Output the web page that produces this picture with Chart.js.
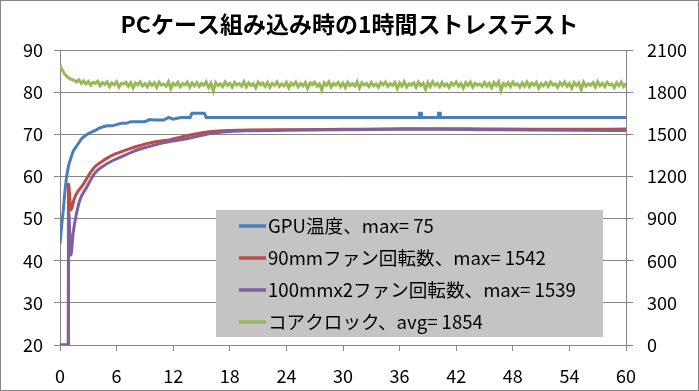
<!DOCTYPE html>
<html>
<head>
<meta charset="utf-8">
<script src="https://cdn.jsdelivr.net/npm/chart.js@4.4.0/dist/chart.umd.min.js"></script>
<style>
    html, body { margin: 0; padding: 0; background: #fff; }
    #wrap { width: 699px; height: 391px; }
</style>
</head>
<body>
<div id="wrap"><canvas id="myChart" width="699" height="391"></canvas></div>
<script>
// ---- data ----
const chartTitle = 'PCケース組み込み時の1時間ストレステスト';
const seriesLabels = [
    'GPU温度、max= 75',
    '90mmファン回転数、max= 1542',
    '100mmx2ファン回転数、max= 1539',
    'コアクロック、avg= 1854'
];
const xTickValues = [0, 6, 12, 18, 24, 30, 36, 42, 48, 54, 60];       // minutes
const leftTickValues = [20, 30, 40, 50, 60, 70, 80, 90];              // temperature
const rightTickValues = [0, 300, 600, 900, 1200, 1500, 1800, 2100];   // rpm / MHz

// GPU temperature (left axis)
const gpuTime = [0, 0.2, 0.35, 0.5, 0.7, 0.9, 1.1, 1.4, 1.7, 2.0,
    2.3, 2.7, 3.0, 3.4, 3.8, 4.2, 4.6, 5.0, 5.5, 6.0,
    6.5, 7.0, 7.5, 8.0, 9.0, 9.5, 10.0, 11.0, 11.5, 12.0,
    12.8, 13.0, 13.8, 14.0, 15.3, 15.5, 38.1, 38.12, 38.3, 38.32,
    40.1, 40.12, 40.3, 40.32, 60];
const gpuTemp = [44, 49, 52, 56, 60, 62.5, 64, 66, 67, 68,
    69, 69.7, 70.2, 70.6, 71, 71.5, 71.8, 72, 72, 72.3,
    72.6, 72.6, 73, 73, 73, 73.5, 73.4, 73.4, 74, 73.6,
    74, 74, 74, 75, 75, 74, 74, 75, 75, 74,
    74, 75, 75, 74, 74];

// 90mm fan rpm (right axis)
const fan90Time = [0, 0.88, 0.9, 1.17, 1.5, 1.9, 2.3, 2.7, 3.2, 3.7,
    4.3, 5.0, 5.8, 6.5, 7.5, 8.5, 9.4, 10.5, 11.7, 13.1,
    14.2, 15.2, 16.5, 18, 20, 25, 30, 35, 40, 45,
    50, 55, 60];
const fan90Rpm = [0, 0, 1146, 960, 1040, 1095, 1127, 1170, 1225, 1269,
    1300, 1330, 1358, 1376, 1400, 1420, 1436, 1450, 1462, 1484,
    1500, 1512, 1522, 1527, 1530, 1532, 1535, 1538, 1540, 1538,
    1536, 1535, 1537];

// 100mm x2 fan rpm (right axis)
const fan100Time = [0, 0.88, 0.92, 1.15, 1.4, 1.7, 2.1, 2.8, 3.7, 4.5,
    5.5, 6.5, 7.5, 8.5, 9.4, 10.5, 11.7, 13.1, 14.2, 15.2,
    16.5, 18, 20, 25, 30, 35, 40, 45, 50, 55,
    60];
const fan100Rpm = [0, 0, 950, 640, 800, 920, 1030, 1120, 1224, 1270,
    1310, 1340, 1370, 1395, 1412, 1432, 1448, 1464, 1480, 1495,
    1510, 1520, 1525, 1530, 1533, 1535, 1536, 1533, 1530, 1528,
    1527];

// core clock MHz (right axis), one row = 5 minutes
const clockTime = [
    0, 0.25, 0.5, 0.75, 1, 1.25, 1.5, 1.75, 2, 2.25, 2.5, 2.75, 3, 3.25, 3.5, 3.75, 4, 4.25, 4.5, 4.75,
    5, 5.25, 5.5, 5.75, 6, 6.25, 6.5, 6.75, 7, 7.25, 7.5, 7.75, 8, 8.25, 8.5, 8.75, 9, 9.25, 9.5, 9.75,
    10, 10.25, 10.5, 10.75, 11, 11.25, 11.5, 11.75, 12, 12.25, 12.5, 12.75, 13, 13.25, 13.5, 13.75, 14, 14.25, 14.5, 14.75,
    15, 15.25, 15.5, 15.75, 16, 16.25, 16.5, 16.75, 17, 17.25, 17.5, 17.75, 18, 18.25, 18.5, 18.75, 19, 19.25, 19.5, 19.75,
    20, 20.25, 20.5, 20.75, 21, 21.25, 21.5, 21.75, 22, 22.25, 22.5, 22.75, 23, 23.25, 23.5, 23.75, 24, 24.25, 24.5, 24.75,
    25, 25.25, 25.5, 25.75, 26, 26.25, 26.5, 26.75, 27, 27.25, 27.5, 27.75, 28, 28.25, 28.5, 28.75, 29, 29.25, 29.5, 29.75,
    30, 30.25, 30.5, 30.75, 31, 31.25, 31.5, 31.75, 32, 32.25, 32.5, 32.75, 33, 33.25, 33.5, 33.75, 34, 34.25, 34.5, 34.75,
    35, 35.25, 35.5, 35.75, 36, 36.25, 36.5, 36.75, 37, 37.25, 37.5, 37.75, 38, 38.25, 38.5, 38.75, 39, 39.25, 39.5, 39.75,
    40, 40.25, 40.5, 40.75, 41, 41.25, 41.5, 41.75, 42, 42.25, 42.5, 42.75, 43, 43.25, 43.5, 43.75, 44, 44.25, 44.5, 44.75,
    45, 45.25, 45.5, 45.75, 46, 46.25, 46.5, 46.75, 47, 47.25, 47.5, 47.75, 48, 48.25, 48.5, 48.75, 49, 49.25, 49.5, 49.75,
    50, 50.25, 50.5, 50.75, 51, 51.25, 51.5, 51.75, 52, 52.25, 52.5, 52.75, 53, 53.25, 53.5, 53.75, 54, 54.25, 54.5, 54.75,
    55, 55.25, 55.5, 55.75, 56, 56.25, 56.5, 56.75, 57, 57.25, 57.5, 57.75, 58, 58.25, 58.5, 58.75, 59, 59.25, 59.5, 59.75,
    60];
const clockMhz = [
    1990, 1955, 1928, 1910, 1898, 1890, 1884, 1872, 1888, 1862, 1880, 1858, 1876, 1850, 1870, 1862, 1878, 1846, 1868, 1855,
    1872, 1840, 1866, 1852, 1874, 1836, 1862, 1858, 1870, 1842, 1868, 1830, 1864, 1851, 1873, 1844, 1860, 1838, 1869, 1848,
    1866, 1834, 1871, 1850, 1858, 1842, 1874, 1826, 1863, 1849, 1870, 1838, 1860, 1852, 1872, 1835, 1866, 1845, 1869, 1840,
    1862, 1850, 1873, 1833, 1864, 1808, 1868, 1846, 1859, 1839, 1872, 1848, 1863, 1836, 1870, 1851, 1861, 1842, 1874, 1837,
    1866, 1847, 1860, 1830, 1871, 1853, 1864, 1840, 1869, 1834, 1862, 1849, 1873, 1841, 1858, 1845, 1870, 1832, 1865, 1850,
    1872, 1838, 1861, 1846, 1868, 1827, 1864, 1852, 1870, 1843, 1859, 1815, 1867, 1848, 1873, 1836, 1862, 1851, 1869, 1840,
    1864, 1833, 1871, 1847, 1860, 1844, 1874, 1830, 1866, 1850, 1862, 1839, 1870, 1845, 1858, 1835, 1868, 1852, 1872, 1841,
    1861, 1848, 1869, 1826, 1865, 1843, 1873, 1837, 1860, 1850, 1867, 1834, 1871, 1846, 1863, 1820, 1869, 1840, 1874, 1849,
    1862, 1838, 1870, 1845, 1859, 1833, 1866, 1851, 1873, 1842, 1861, 1829, 1868, 1847, 1872, 1836, 1864, 1850, 1858, 1840,
    1870, 1844, 1863, 1831, 1869, 1848, 1874, 1812, 1862, 1846, 1867, 1839, 1871, 1851, 1860, 1835, 1866, 1843, 1873, 1838,
    1864, 1849, 1870, 1830, 1861, 1845, 1868, 1840, 1872, 1852, 1859, 1834, 1867, 1847, 1873, 1841, 1862, 1828, 1869, 1846,
    1865, 1818, 1871, 1843, 1860, 1849, 1868, 1836, 1874, 1845, 1862, 1839, 1870, 1851, 1858, 1832, 1867, 1846, 1872, 1840,
    1862];

// ---- chart ----
const FONT = '"Noto Sans CJK JP", "Noto Sans", sans-serif';
const GRID = '#868686';

function toPoints(xs, ys) {
    return xs.map(function (x, i) { return { x: x, y: ys[i] }; });
}

// white background + thin outer frame
const framePlugin = {
    id: 'frame',
    beforeDraw: function (chart) {
        const c = chart.ctx;
        c.save();
        c.fillStyle = '#fff';
        c.fillRect(0, 0, chart.width, chart.height);
        c.restore();
    },
    afterDraw: function (chart) {
        const c = chart.ctx;
        c.save();
        c.strokeStyle = GRID;
        c.lineWidth = 1;
        c.strokeRect(0.5, 0.5, chart.width - 1, chart.height - 1);
        c.restore();
    }
};

// grey legend box sitting inside the plot area
const boxLegend = {
    id: 'boxLegend',
    afterDatasetsDraw: function (chart) {
        const c = chart.ctx;
        const a = chart.chartArea;
        const bx = a.left + 156, by = a.top + 160, bw = 387, bh = 127;
        c.save();
        c.fillStyle = '#C4C4C4';
        c.fillRect(bx, by, bw, bh);
        c.font = '18.6px ' + FONT;
        c.textBaseline = 'middle';
        c.textAlign = 'left';
        chart.data.datasets.forEach(function (ds, i) {
            const y = by + 16 + i * 32;
            c.strokeStyle = ds.borderColor;
            c.lineWidth = 3.5;
            c.beginPath();
            c.moveTo(bx + 23, y);
            c.lineTo(bx + 50, y);
            c.stroke();
            c.fillStyle = '#000';
            c.fillText(ds.label, bx + 52, y);
        });
        c.restore();
    }
};

const ctx = document.getElementById('myChart').getContext('2d');

const myChart = new Chart(ctx, {
    type: 'line',
    data: {
        datasets: [{
            label: seriesLabels[0],
            data: toPoints(gpuTime, gpuTemp),
            borderColor: '#4A7EBB',
            yAxisID: 'y',
            order: 4
        }, {
            label: seriesLabels[1],
            data: toPoints(fan90Time, fan90Rpm),
            borderColor: '#BE4B48',
            yAxisID: 'y2',
            cubicInterpolationMode: 'monotone',
            order: 3
        }, {
            label: seriesLabels[2],
            data: toPoints(fan100Time, fan100Rpm),
            borderColor: '#7D60A0',
            yAxisID: 'y2',
            cubicInterpolationMode: 'monotone',
            order: 2
        }, {
            label: seriesLabels[3],
            data: toPoints(clockTime, clockMhz),
            borderColor: '#98B954',
            yAxisID: 'y2',
            order: 1
        }]
    },
    options: {
        responsive: false,
        animation: false,
        devicePixelRatio: 1,
        elements: {
            point: { radius: 0 },
            line: { borderWidth: 3, fill: false }
        },
        layout: { padding: 0 },
        plugins: {
            legend: { display: false },
            tooltip: { enabled: false },
            title: {
                display: true,
                text: chartTitle,
                color: '#000',
                font: { family: FONT, size: 23, weight: 'bold' },
                padding: { top: 10, bottom: 12.4 }
            }
        },
        scales: {
            x: {
                type: 'linear',
                min: xTickValues[0],
                max: xTickValues[xTickValues.length - 1],
                ticks: {
                    stepSize: xTickValues[1] - xTickValues[0],
                    color: '#000',
                    font: { family: FONT, size: 18 },
                    padding: 14,
                    maxRotation: 0
                },
                grid: { drawOnChartArea: false, drawTicks: true, tickLength: 6, color: GRID },
                border: { display: true, color: GRID },
                afterFit: function (s) { s.height = 46; }
            },
            y: {
                position: 'left',
                min: leftTickValues[0],
                max: leftTickValues[leftTickValues.length - 1],
                ticks: {
                    stepSize: leftTickValues[1] - leftTickValues[0],
                    color: '#000',
                    font: { family: FONT, size: 18 },
                    padding: 11
                },
                grid: { color: GRID, tickLength: 6 },
                border: { display: true, color: GRID },
                afterFit: function (s) { s.width = 60; }
            },
            y2: {
                position: 'right',
                min: rightTickValues[0],
                max: rightTickValues[rightTickValues.length - 1],
                ticks: {
                    stepSize: rightTickValues[1] - rightTickValues[0],
                    color: '#000',
                    font: { family: FONT, size: 18 },
                    padding: 14,
                    callback: function (v) { return String(v); }
                },
                grid: { drawOnChartArea: false, color: GRID, tickLength: 7 },
                border: { display: true, color: GRID },
                afterFit: function (s) { s.width = 73; }
            }
        }
    },
    plugins: [framePlugin, boxLegend]
});
</script>
</body>
</html>
